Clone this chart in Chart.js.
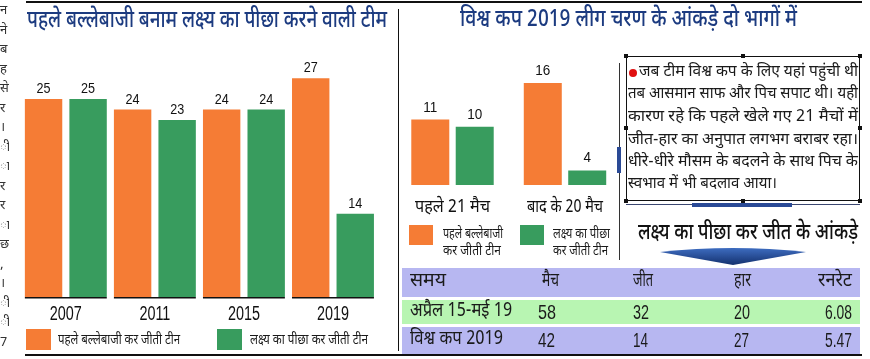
<!DOCTYPE html>
<html><head><meta charset="utf-8">
<script src="https://cdn.jsdelivr.net/npm/chart.js@4.4.0/dist/chart.umd.min.js"></script>
<style>
html,body{margin:0;padding:0;background:#fff;}
#root{position:relative;width:870px;height:359px;overflow:hidden;font-family:"Noto Sans Devanagari","Lohit Devanagari","Noto Sans",sans-serif;color:#1a1a1a;}
.t{position:absolute;white-space:nowrap;transform-origin:0 50%;}
.bx{position:absolute;}
canvas{position:absolute;}
</style></head><body><div id="root">
<canvas id="c1" width="400" height="300" style="left:0;top:30px;width:400px;height:300px"></canvas>
<canvas id="c2" width="236" height="180" style="left:390px;top:40px;width:236px;height:180px"></canvas>
</div>
<script>
// ---- data ----
const leftYears = ['2007', '2011', '2015', '2019'];
const leftBatFirst = [25, 24, 24, 27];
const leftChasing = [25, 23, 24, 14];
const rightPhases = ['पहले 21 मैच', 'बाद के 20 मैच'];
const rightBatFirst = [11, 16];
const rightChasing = [10, 4];
const seriesNames = ['पहले बल्लेबाजी कर जीती टीन', 'लक्ष्य का पीछा कर जीती टीन'];
const seriesNamesShort = [['पहले बल्लेबाजी', 'कर जीती टीन'], ['लक्ष्य का पीछा', 'कर जीती टीन']];
const leftTitle = 'पहले बल्लेबाजी बनाम लक्ष्य का पीछा करने वाली टीम';
const rightTitle = 'विश्व कप 2019 लीग चरण के आंकड़े दो भागों में';
const tableTitle = 'लक्ष्य का पीछा कर जीत के आंकड़े';
const tableHead = ['समय', 'मैच', 'जीत', 'हार', 'रनरेट'];
const tableRow1 = ['अप्रैल 15-मई 19', '58', '32', '20', '6.08'];
const tableRow2 = ['विश्व कप 2019', '42', '14', '27', '5.47'];
const noteLines = ['जब टीम विश्व कप के लिए यहां पहुंची थी', 'तब आसमान साफ और पिच सपाट थी। यही', 'कारण रहे कि पहले खेले गए 21 मैचों में', 'जीत-हार का अनुपात लगभग बराबर रहा।', 'धीरे-धीरे मौसम के बदलने के साथ पिच के', 'स्वभाव में भी बदलाव आया।'];
const edgeText = ['न','ने','ब','ह','से','र','।','ी','ा','र','र','ा','छ',',','।','ी','ी','7'];

const ORANGE = '#F57C35', GREEN = '#389C5E', BLUE = '#1c3b80';
const DEV = '"Noto Sans Devanagari","Lohit Devanagari","Noto Sans",sans-serif';
const NUM = '"Liberation Sans",Arial,sans-serif';
const root = document.getElementById('root');

function box(x, y, w, h, bg, extra) {
  const d = document.createElement('div'); d.className = 'bx';
  Object.assign(d.style, {left: x + 'px', top: y + 'px', width: w + 'px', height: h + 'px', background: bg}, extra || {});
  root.appendChild(d); return d;
}
const fits = [];
function T(text, x, yc, w, size, opt) {
  opt = opt || {};
  const s = document.createElement('span'); s.className = 't'; s.textContent = text;
  const lh = size * 1.4;
  Object.assign(s.style, {left: x + 'px', top: (yc - lh / 2) + 'px', fontSize: size + 'px', lineHeight: lh + 'px', color: opt.color || '#1a1a1a', fontFamily: opt.font || DEV, fontWeight: opt.weight || 'normal'});
  if (opt.right) { s.style.left = (x - 400) + 'px'; s.style.width = '400px'; s.style.textAlign = 'right'; }
  root.appendChild(s); if (w) fits.push([s, w, !!opt.right]); return s;
}

// frame lines
box(26, 1, 836, 2, '#111');
box(397.5, 9, 1.5, 342, '#111');
box(25, 354, 837, 1.5, '#111');

// cut-off neighbour column at left edge
const edge = box(0, 0, 9, 359, 'transparent', {overflow: 'hidden'});
edgeText.forEach((c, i) => {
  const s = document.createElement('span');
  s.textContent = c;
  Object.assign(s.style, {position: 'absolute', left: '0px', top: (2 + i * 19.5) + 'px', fontSize: '13px', lineHeight: '18px', whiteSpace: 'nowrap', color: '#333', fontFamily: DEV});
  edge.appendChild(s);
});

// titles
T(leftTitle, 27, 22, 360, 24, {color: BLUE, weight: 500});
T(rightTitle, 460, 21, 337, 24, {color: BLUE, weight: 500});

// left legend
box(26, 329, 25, 21, ORANGE);
T(seriesNames[0], 58, 340, 122, 15);
box(217, 329, 25, 21, GREEN);
T(seriesNames[1], 250, 340, 118, 15);

// right legend
box(409, 225, 24, 20, ORANGE);
T(seriesNamesShort[0][0], 443, 235, 60, 14);
T(seriesNamesShort[0][1], 443, 252, 58, 14);
box(520, 225, 24, 20, GREEN);
T(seriesNamesShort[1][0], 553, 235, 57, 14);
T(seriesNamesShort[1][1], 553, 252, 55, 14);

// vertical divider with blue accent
box(618.5, 63, 1, 197, '#333');
box(617, 147, 3.5, 26, '#2a4a96');

// note box
box(626, 56, 234, 145, 'transparent', {border: '1px solid #111', boxSizing: 'border-box'});
[[626,56],[743,56],[860,56],[626,128],[860,128],[626,201],[743,201],[860,201]].forEach(p => box(p[0] - 2, p[1] - 2, 4, 4, '#111'));
box(629, 69, 8, 8, '#e01010', {borderRadius: '50%'});
const lineY = [73, 95, 118, 141, 163, 185];
const lineX = [639, 628, 628, 628, 628, 628];
const lineW = [219, 230, 230, 230, 230, 149];
noteLines.forEach((l, i) => T(l, lineX[i], lineY[i], lineW[i], 15.5));

// line above table title
box(626, 204, 234, 1, '#3a4670');
box(692, 202.5, 100, 4, '#2a4a96');
T(tableTitle, 638, 233, 220, 23, {color: '#111', weight: 500});

// arrow
const svgNS = 'http://www.w3.org/2000/svg';
const svg = document.createElementNS(svgNS, 'svg');
svg.setAttribute('width', '146'); svg.setAttribute('height', '20');
Object.assign(svg.style, {position: 'absolute', left: '660px', top: '246px'});
svg.innerHTML = '<defs><linearGradient id="ag" x1="0" y1="0" x2="0" y2="1"><stop offset="0" stop-color="#3d6cc0"/><stop offset="1" stop-color="#14316e"/></linearGradient></defs><path d="M0,6 Q73,-2 146,6 L73,19 Z" fill="url(#ag)"/>';
root.appendChild(svg);

// table
box(402, 268, 458, 29, '#b7b7f1');
box(402, 300, 458, 23.5, '#b8f5b2');
box(402, 327, 458, 27, '#b7b7f1');
const rowsY = [282, 312, 340];
T(tableHead[0], 410, rowsY[0], 36, 19);
T(tableHead[1], 542, rowsY[0], 17, 19);
T(tableHead[2], 633, rowsY[0], 20, 19);
T(tableHead[3], 734, rowsY[0], 17, 19);
T(tableHead[4], 852, rowsY[0], 34, 19, {right: true});
[[tableRow1, 102, [18, 16, 16, 27]], [tableRow2, 93, [17, 15, 15, 27]]].forEach((r, ri) => {
  const row = r[0], y = rowsY[ri + 1], ws = r[2];
  T(row[0], 410, y, r[1], 19);
  T(row[1], 538, y, ws[0], 21, {font: NUM});
  T(row[2], 633, y, ws[1], 21, {font: NUM});
  T(row[3], 734, y, ws[2], 21, {font: NUM});
  T(row[4], 852, y, ws[3], 21, {font: NUM, right: true});
});

// ---- charts ----
function drawScaled(ctx, text, x, y, sx) {
  ctx.save(); ctx.translate(x, y); ctx.scale(sx, 1); ctx.fillText(text, 0, 0); ctx.restore();
}
const valuePlugin = {
  id: 'vals',
  afterDatasetsDraw(chart, args, o) {
    const ctx = chart.ctx; ctx.save();
    ctx.fillStyle = '#111'; ctx.textAlign = 'center';
    ctx.font = o.font; ctx.textBaseline = 'alphabetic';
    chart.data.datasets.forEach((ds, di) => {
      chart.getDatasetMeta(di).data.forEach((bar, i) => drawScaled(ctx, String(ds.data[i]), bar.x, bar.y - o.gap, o.sx));
    });
    const xs = chart.scales.x;
    ctx.font = o.catFont; ctx.textBaseline = 'middle';
    chart.data.labels.forEach((lab, i) => {
      const w = ctx.measureText(lab).width;
      const sx = o.catW ? o.catW[i] / w : o.catSx;
      drawScaled(ctx, lab, xs.getPixelForValue(i), chart.chartArea.bottom + o.catDy, sx);
    });
    if (o.baseline) {
      const m0 = chart.getDatasetMeta(0).data, m1 = chart.getDatasetMeta(1).data;
      ctx.strokeStyle = '#111'; ctx.lineWidth = 1.5;
      m0.forEach((b, i) => {
        const l = b.x - b.width / 2, r = m1[i].x + m1[i].width / 2;
        ctx.beginPath(); ctx.moveTo(l, chart.chartArea.bottom + 0.75); ctx.lineTo(r, chart.chartArea.bottom + 0.75); ctx.stroke();
      });
    }
    ctx.restore();
  }
};
Chart.register(valuePlugin);

new Chart(document.getElementById('c1'), {
  type: 'bar',
  data: {labels: leftYears, datasets: [
    {label: seriesNames[0], data: leftBatFirst, backgroundColor: ORANGE, categoryPercentage: 1, barPercentage: 0.84},
    {label: seriesNames[1], data: leftChasing, backgroundColor: GREEN, categoryPercentage: 1, barPercentage: 0.84}
  ]},
  options: {
    responsive: false, devicePixelRatio: 1, animation: false,
    layout: {padding: {left: 21.3, right: 22.5, top: 17, bottom: 33}},
    plugins: {legend: {display: false}, tooltip: {enabled: false},
      vals: {font: '15px ' + NUM, gap: 6, sx: 0.84, baseline: true, catFont: '20px ' + NUM, catDy: 17.5, catSx: 0.72}},
    scales: {
      x: {display: false},
      y: {display: false, min: 6, max: 30}
    }
  }
});

new Chart(document.getElementById('c2'), {
  type: 'bar',
  data: {labels: rightPhases, datasets: [
    {label: seriesNames[0], data: rightBatFirst, backgroundColor: ORANGE, categoryPercentage: 0.79, barPercentage: 0.855},
    {label: seriesNames[1], data: rightChasing, backgroundColor: GREEN, categoryPercentage: 0.79, barPercentage: 0.855}
  ]},
  options: {
    responsive: false, devicePixelRatio: 1, animation: false,
    layout: {padding: {left: 6.25, right: 4.75, top: 14, bottom: 35}},
    plugins: {legend: {display: false}, tooltip: {enabled: false},
      vals: {font: '15px ' + NUM, gap: 8, sx: 0.9, baseline: false, catFont: '18px ' + DEV, catDy: 24, catW: [75, 76]}},
    scales: {
      x: {display: false},
      y: {display: false, min: 2, max: 20}
    }
  }
});

function doFit() {
  fits.forEach(([s, w, right]) => {
    s.style.transform = 'none';
    let nat;
    if (right) {
      const r = document.createRange(); r.selectNodeContents(s); nat = r.getBoundingClientRect().width;
      s.style.transformOrigin = '100% 50%';
    } else nat = s.getBoundingClientRect().width;
    if (nat > 0) s.style.transform = 'scaleX(' + (w / nat) + ')';
  });
}
doFit();
if (document.fonts && document.fonts.ready) document.fonts.ready.then(doFit);
</script>
</body></html>
